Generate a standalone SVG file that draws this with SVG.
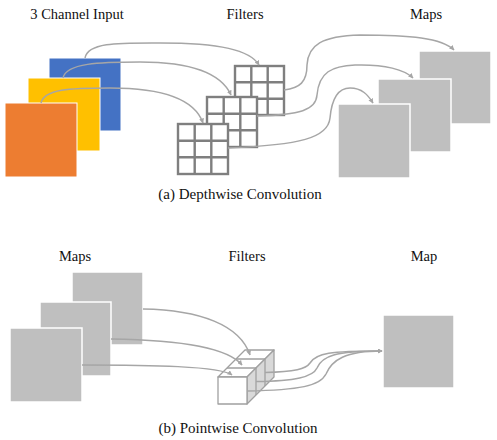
<svg xmlns="http://www.w3.org/2000/svg" width="497" height="440" viewBox="0 0 497 440">
<style>
text{font-family:"Liberation Serif","Times New Roman",serif;font-size:14.5px;fill:#111;text-anchor:middle}
.cap{font-size:15px}
.map{fill:#BFBFBF;stroke:#fff;stroke-width:1.5}
.grid rect{fill:#fff;stroke:#7F7F7F;stroke-width:2.4}
.grid path{fill:none;stroke:#7F7F7F;stroke-width:2.4}
.conn path{fill:none;stroke:#A6A6A6;stroke-width:1.5;marker-end:url(#ah)}
.cube{stroke:#A0A0A0;stroke-width:1.3;stroke-linejoin:round}
</style>
<defs>
<marker id="ah" viewBox="0 0 10 10" refX="9" refY="5" markerWidth="5" markerHeight="5" orient="auto" markerUnits="userSpaceOnUse">
<path d="M0,0 L10,5 L0,10 z" fill="#A6A6A6"/>
</marker>
</defs>

<!-- Labels -->
<text x="77" y="19">3 Channel Input</text>
<text x="245" y="19">Filters</text>
<text x="426" y="19">Maps</text>
<text class="cap" x="240" y="199">(a) Depthwise Convolution</text>
<text x="75" y="261">Maps</text>
<text x="247" y="261">Filters</text>
<text x="424" y="261">Map</text>
<text class="cap" x="238" y="433">(b) Pointwise Convolution</text>

<!-- Input channels -->
<g id="input-blue"><rect x="49" y="58" width="72" height="73" fill="#4472C4" stroke="#fff" stroke-width="1"/></g>
<g id="input-yellow"><rect x="28" y="78" width="72" height="73" fill="#FFC000" stroke="#fff" stroke-width="1"/></g>
<g id="input-orange"><rect x="5" y="103" width="72" height="74" fill="#ED7D31" stroke="#fff" stroke-width="1"/></g>

<!-- Depthwise filters -->
<g id="filter-1" class="grid"><rect x="235" y="66" width="49" height="49"/><path d="M251.3,66V115M267.7,66V115M235,82.3H284M235,98.7H284"/></g>
<g id="filter-2" class="grid"><rect x="207" y="97" width="50" height="50"/><path d="M223.7,97V147M240.3,97V147M207,113.7H257M207,130.3H257"/></g>
<g id="filter-3" class="grid"><rect x="178" y="124" width="50" height="50"/><path d="M194.7,124V174M211.3,124V174M178,140.7H228M178,157.3H228"/></g>

<!-- Output maps (depthwise) -->
<g id="dmap-1"><rect class="map" x="419" y="51" width="72" height="73"/></g>
<g id="dmap-2"><rect class="map" x="378" y="79" width="73" height="73"/></g>
<g id="dmap-3"><rect class="map" x="338" y="104" width="72" height="74"/></g>

<!-- Pointwise input maps -->
<g id="pmap-1"><rect class="map" x="72" y="272" width="71" height="73"/></g>
<g id="pmap-2"><rect class="map" x="40" y="302" width="71" height="74"/></g>
<g id="pmap-3"><rect class="map" x="10" y="328" width="72" height="74"/></g>

<!-- Pointwise output map -->
<g id="out-map"><rect class="map" x="383" y="315" width="71" height="73"/></g>

<!-- 1x1x3 filter cube -->
<g id="cube" class="cube">
<polygon points="218,377 247,377 274,350 245,350" fill="#fff"/>
<path d="M227,368H256M236,359H265" fill="none"/>
<polygon points="247,377 274,350 274,377 247,404" fill="#D9D9D9"/>
<path d="M256,368V395M265,359V386" fill="none"/>
<rect x="218" y="377" width="29" height="27" fill="#fff"/>
</g>

<!-- Connectors -->
<g id="connectors" class="conn">
<path d="M85,58 C88,42 120,43 160,43 C220,43 250,50 259,65"/>
<path d="M63,78 C66,63 100,62 140,62 C195,62 222,75 231,95"/>
<path d="M41,103 C44,89 70,88 110,88 C165,88 195,100 203,123"/>
<path d="M284,90 C300,88 307,82 307,65 C308,45 322,36 360,35 C410,35 442,38 454,50"/>
<path d="M257,116 C300,115 316,110 317,95 C319,72 332,66 355,65 C385,64 405,70 413,78"/>
<path d="M228,148 C300,145 328,138 330,118 C332,96 340,88 350,88 C362,88 368,95 373,103"/>
<path d="M143,309 C200,310 240,325 250,355"/>
<path d="M111,339 C180,340 228,348 242,365"/>
<path d="M82,365 C150,365 220,366 232,375"/>
<path d="M265,372.5 C295,372 306,369 310,363 C316,353 330,351 382,351"/>
<path d="M256,381.5 C295,381 313,377 317,368 C322,356 335,351 382,351"/>
<path d="M247,391 C300,390 320,386 326,374 C332,360 345,351 382,351"/>
</g>
</svg>
